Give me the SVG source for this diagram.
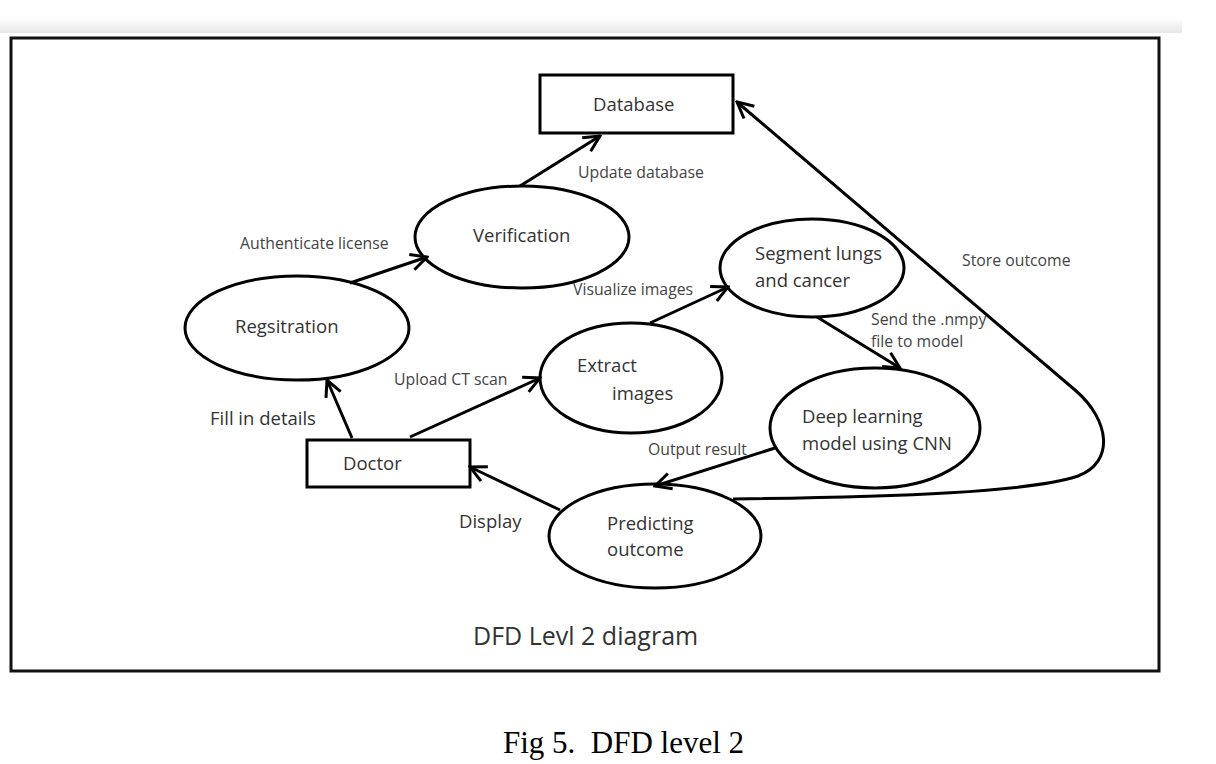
<svg xmlns="http://www.w3.org/2000/svg" width="1216" height="764" viewBox="0 0 1216 764">
<defs>
<linearGradient id="band" x1="0" y1="0" x2="0" y2="1">
<stop offset="0" stop-color="#ffffff"/>
<stop offset="1" stop-color="#e6e6e6"/>
</linearGradient>
<marker id="arr" viewBox="0 0 20 20" refX="18" refY="10" markerWidth="20" markerHeight="20" markerUnits="userSpaceOnUse" orient="auto">
<path d="M2,2 L18,10 L2,18" fill="none" stroke="#000" stroke-width="3"/>
</marker>
</defs>
<style>
.n{fill:#fff;stroke:#000;stroke-width:3}
.c{fill:none;stroke:#000;stroke-width:3;marker-end:url(#arr)}
.t{font-family:"Open Sans","Liberation Sans",Arial,sans-serif;font-size:18.5px;fill:#333}
.s{font-family:"Open Sans","Liberation Sans",Arial,sans-serif;font-size:15.8px;fill:#444}
</style>
<rect x="0" y="18" width="1182" height="15" fill="url(#band)"/>
<rect x="11" y="38" width="1148" height="633" fill="#fff" stroke="#111" stroke-width="3"/>
<g id="database"><rect class="n" x="540" y="75" width="193" height="58"/><text class="t" x="593" y="111">Database</text></g>
<g id="verification"><ellipse class="n" cx="522" cy="237" rx="107" ry="51"/><text class="t" x="473" y="242">Verification</text></g>
<g id="registration"><ellipse class="n" cx="297" cy="328" rx="112" ry="52"/><text class="t" x="235" y="333">Regsitration</text></g>
<g id="segment"><ellipse class="n" cx="812" cy="268" rx="92" ry="49"/><text class="t" x="755" y="260">Segment lungs</text><text class="t" x="755" y="287">and cancer</text></g>
<g id="extract"><ellipse class="n" cx="631" cy="378" rx="91" ry="55"/><text class="t" x="577" y="372">Extract</text><text class="t" x="612" y="400">images</text></g>
<g id="deep"><ellipse class="n" cx="875" cy="428" rx="105" ry="60"/><text class="t" x="802" y="423">Deep learning</text><text class="t" x="802" y="450">model using CNN</text></g>
<g id="predicting"><ellipse class="n" cx="655" cy="536" rx="106" ry="52"/><text class="t" x="607" y="530">Predicting</text><text class="t" x="607" y="556">outcome</text></g>
<g id="doctor"><rect class="n" x="307" y="440" width="163" height="47"/><text class="t" x="343" y="470">Doctor</text></g>
<g id="connectors">
<line class="c" x1="520" y1="186" x2="600" y2="136"/>
<line class="c" x1="350" y1="283" x2="427" y2="257"/>
<line class="c" x1="352" y1="438" x2="327" y2="380"/>
<line class="c" x1="410" y1="437" x2="540" y2="378"/>
<line class="c" x1="650" y1="323" x2="728" y2="287"/>
<line class="c" x1="817" y1="317" x2="900" y2="368"/>
<line class="c" x1="775" y1="448" x2="655" y2="486"/>
<line class="c" x1="560" y1="510" x2="470" y2="467"/>
<path class="c" d="M733,499 C900,497 1030,492 1078,476 C1115,462 1110,420 1075,390 L737,102"/>
</g>
<g id="labels">
<text class="s" x="578" y="178">Update database</text>
<text class="s" x="240" y="249">Authenticate license</text>
<text class="s" x="573" y="295">Visualize images</text>
<text class="s" x="962" y="266">Store outcome</text>
<text class="s" x="871" y="325">Send the .nmpy</text>
<text class="s" x="871" y="347">file to model</text>
<text class="s" x="394" y="385">Upload CT scan</text>
<text class="t" x="210" y="425">Fill in details</text>
<text class="s" x="648" y="455">Output result</text>
<text class="t" x="459" y="528">Display</text>
<text x="473" y="645" style="font-family:'Open Sans','Liberation Sans',Arial,sans-serif;font-size:25px;fill:#333">DFD Levl 2 diagram</text>
<text x="503" y="753" xml:space="preserve" style="font-family:'Liberation Serif','Times New Roman',serif;font-size:31px;fill:#000">Fig 5.  DFD level 2</text>
</g>
</svg>
